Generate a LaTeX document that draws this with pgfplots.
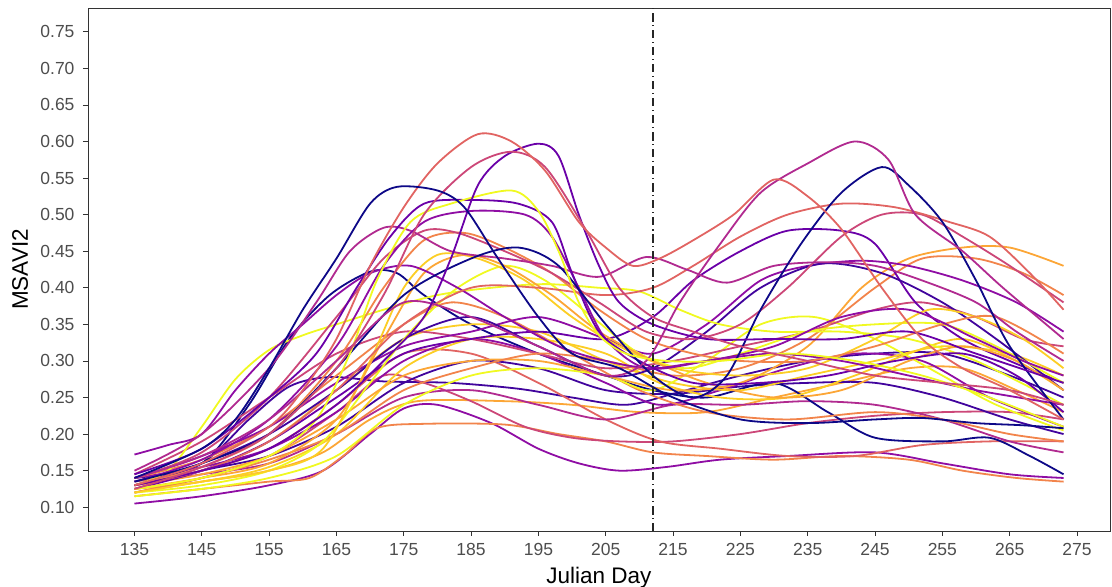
\documentclass[border=0pt]{standalone}
\usepackage{fontspec}
\setmainfont{Liberation Sans}
\usepackage{pgfplots}
\pgfplotsset{compat=1.18}
\definecolor{p0}{HTML}{0D0887}
\definecolor{p1}{HTML}{41049D}
\definecolor{p2}{HTML}{6A00A8}
\definecolor{p3}{HTML}{8F0DA4}
\definecolor{p4}{HTML}{B12A90}
\definecolor{p5}{HTML}{CC4778}
\definecolor{p6}{HTML}{E16462}
\definecolor{p7}{HTML}{F2844B}
\definecolor{p8}{HTML}{FCA636}
\definecolor{p9}{HTML}{FCCE25}
\definecolor{p10}{HTML}{F0F921}
\definecolor{tickgray}{HTML}{4D4D4D}
\definecolor{framegray}{HTML}{333333}
\begin{document}
\begin{tikzpicture}
\begin{axis}[
  width=1022pt, height=523pt, scale only axis,
  xmin=128.1, xmax=279.9, ymin=0.0675, ymax=0.7825,
  xtick={135,145,155,165,175,185,195,205,215,225,235,245,255,265,275},
  ytick={0.10,0.15,0.20,0.25,0.30,0.35,0.40,0.45,0.50,0.55,0.60,0.65,0.70,0.75},
  /pgf/number format/assume math mode=true,
  yticklabel style={/pgf/number format/.cd, fixed, fixed zerofill, precision=2, /tikz/.cd, xshift=-5pt},
  xticklabel style={/pgf/number format/.cd, set thousands separator={}, /tikz/.cd, yshift=-4pt},
  tick align=outside, xtick pos=bottom, ytick pos=left,
  major tick length=5pt,
  axis line style={framegray, line width=0.8pt},
  tick style={framegray, line width=0.8pt},
  ticklabel style={font=\fontsize{17.5}{20}\selectfont, text=tickgray},
  xlabel={Julian Day}, ylabel={MSAVI2},
  every axis x label/.style={at={(axis description cs:0.5,-0.09)}, anchor=center, font=\fontsize{22.5}{25}\selectfont},
  every axis y label/.style={at={(axis description cs:-0.0665,0.5)}, rotate=90, anchor=center, font=\fontsize{22.5}{25}\selectfont},
  every axis plot post/.append style={smooth, line width=1.8pt, mark=none},
]
% lower band
\addplot[p3] coordinates {(135,0.105)(145,0.115)(155,0.13)(163,0.15)(170,0.20)(175,0.235)(180,0.24)(188,0.215)(195,0.18)(201,0.16)(207,0.15)(214,0.155)(222,0.165)(232,0.17)(245,0.175)(255,0.16)(265,0.145)(273,0.14)};
\addplot[p7] coordinates {(135,0.115)(145,0.125)(155,0.135)(161,0.14)(166,0.17)(171,0.208)(178,0.214)(190,0.213)(198,0.20)(205,0.19)(212,0.175)(220,0.17)(230,0.165)(240,0.17)(250,0.165)(258,0.15)(266,0.14)(273,0.135)};
\addplot[p8] coordinates {(135,0.12)(145,0.135)(155,0.15)(163,0.175)(170,0.22)(177,0.245)(190,0.245)(200,0.24)(210,0.23)(220,0.23)(230,0.25)(240,0.27)(250,0.29)(258,0.29)(266,0.26)(273,0.23)};
\addplot[p1] coordinates {(135,0.13)(145,0.16)(152,0.22)(158,0.265)(164,0.278)(172,0.272)(182,0.27)(192,0.262)(200,0.25)(208,0.24)(215,0.255)(225,0.28)(235,0.30)(245,0.31)(255,0.31)(265,0.28)(273,0.25)};
\addplot[p5] coordinates {(135,0.12)(145,0.14)(155,0.17)(165,0.23)(172,0.28)(178,0.27)(185,0.245)(193,0.21)(200,0.195)(207,0.19)(215,0.19)(225,0.20)(235,0.215)(245,0.225)(255,0.23)(265,0.23)(273,0.22)};
\addplot[p6] coordinates {(135,0.135)(145,0.15)(155,0.18)(165,0.24)(175,0.31)(185,0.31)(195,0.27)(205,0.22)(213,0.19)(222,0.18)(232,0.17)(242,0.17)(252,0.185)(262,0.19)(273,0.19)};
\addplot[p4] coordinates {(135,0.13)(145,0.145)(155,0.16)(165,0.20)(175,0.25)(185,0.26)(195,0.24)(205,0.22)(215,0.24)(225,0.24)(235,0.245)(245,0.24)(255,0.22)(265,0.19)(273,0.175)};
\addplot[p1] coordinates {(135,0.125)(145,0.15)(155,0.17)(165,0.21)(175,0.27)(185,0.30)(195,0.29)(205,0.26)(215,0.255)(225,0.265)(235,0.27)(245,0.27)(255,0.25)(265,0.22)(273,0.20)};
\addplot[p0] coordinates {(135,0.14)(145,0.16)(152,0.24)(158,0.33)(164,0.39)(170,0.422)(174,0.42)(178,0.39)(185,0.35)(195,0.31)(205,0.28)(212,0.26)(220,0.25)(230,0.27)(238,0.23)(245,0.195)(255,0.19)(262,0.195)(268,0.17)(273,0.145)};
\addplot[p3] coordinates {(135,0.14)(145,0.155)(155,0.18)(165,0.23)(175,0.30)(185,0.33)(195,0.31)(205,0.27)(213,0.24)(222,0.26)(232,0.29)(242,0.31)(252,0.30)(262,0.25)(273,0.21)};
\addplot[p9] coordinates {(135,0.13)(145,0.15)(155,0.19)(165,0.26)(175,0.33)(185,0.35)(195,0.34)(205,0.30)(215,0.27)(225,0.26)(235,0.28)(245,0.30)(255,0.32)(265,0.31)(273,0.28)};
\addplot[p7] coordinates {(135,0.14)(145,0.165)(155,0.21)(165,0.28)(175,0.35)(182,0.38)(190,0.36)(200,0.31)(210,0.26)(220,0.23)(232,0.22)(245,0.23)(255,0.22)(265,0.20)(273,0.19)};
\addplot[p9] coordinates {(135,0.125)(145,0.135)(155,0.155)(165,0.20)(175,0.29)(185,0.33)(195,0.33)(205,0.31)(213,0.27)(222,0.25)(232,0.25)(242,0.28)(250,0.31)(258,0.33)(266,0.30)(273,0.26)};
\addplot[p10] coordinates {(135,0.115)(145,0.125)(155,0.14)(165,0.17)(175,0.24)(185,0.28)(195,0.29)(205,0.28)(212,0.26)(220,0.30)(228,0.35)(236,0.36)(245,0.33)(255,0.28)(263,0.24)(273,0.205)};
\addplot[p5] coordinates {(135,0.145)(145,0.19)(155,0.25)(165,0.31)(175,0.34)(185,0.33)(195,0.31)(205,0.29)(215,0.30)(225,0.32)(235,0.34)(245,0.37)(252,0.38)(260,0.36)(267,0.33)(273,0.32)};
% middle band
\addplot[p8] coordinates {(135,0.13)(145,0.145)(155,0.17)(165,0.22)(175,0.28)(185,0.30)(195,0.30)(205,0.28)(215,0.26)(225,0.27)(235,0.32)(243,0.40)(250,0.44)(258,0.455)(265,0.455)(273,0.43)};
\addplot[p7] coordinates {(135,0.12)(145,0.14)(155,0.165)(165,0.20)(175,0.26)(185,0.29)(195,0.31)(205,0.30)(215,0.28)(225,0.29)(235,0.33)(245,0.40)(252,0.44)(260,0.44)(267,0.42)(273,0.39)};
\addplot[p2] coordinates {(135,0.125)(145,0.15)(155,0.19)(165,0.25)(175,0.31)(185,0.33)(195,0.34)(205,0.33)(212,0.36)(218,0.41)(225,0.45)(232,0.478)(240,0.478)(245,0.46)(251,0.38)(258,0.33)(265,0.30)(273,0.27)};
\addplot[p3] coordinates {(135,0.14)(145,0.17)(155,0.21)(165,0.27)(175,0.32)(185,0.34)(195,0.36)(205,0.33)(212,0.31)(220,0.35)(228,0.41)(235,0.43)(243,0.437)(250,0.43)(258,0.41)(266,0.38)(273,0.34)};
\addplot[p1] coordinates {(135,0.13)(145,0.16)(155,0.20)(165,0.26)(175,0.33)(185,0.36)(195,0.32)(205,0.28)(212,0.29)(220,0.34)(228,0.40)(237,0.433)(246,0.42)(255,0.38)(263,0.33)(273,0.26)};
\addplot[p10] coordinates {(135,0.13)(140,0.15)(145,0.21)(150,0.275)(155,0.315)(160,0.335)(165,0.35)(172,0.37)(180,0.39)(188,0.40)(196,0.405)(204,0.40)(210,0.395)(216,0.37)(222,0.35)(230,0.34)(240,0.34)(250,0.33)(260,0.30)(273,0.24)};
\addplot[p10] coordinates {(135,0.12)(145,0.13)(155,0.15)(163,0.19)(170,0.27)(176,0.34)(183,0.40)(190,0.43)(196,0.41)(203,0.36)(210,0.31)(217,0.29)(225,0.31)(235,0.34)(245,0.35)(255,0.35)(263,0.32)(273,0.27)};
\addplot[p9] coordinates {(135,0.12)(145,0.135)(155,0.15)(163,0.18)(170,0.30)(175,0.40)(180,0.445)(186,0.44)(193,0.41)(200,0.36)(207,0.32)(215,0.29)(225,0.28)(235,0.29)(245,0.33)(253,0.37)(260,0.36)(267,0.33)(273,0.29)};
\addplot[p8] coordinates {(135,0.125)(145,0.14)(155,0.16)(165,0.22)(172,0.33)(178,0.42)(184,0.445)(190,0.43)(197,0.39)(204,0.34)(212,0.30)(220,0.27)(230,0.25)(240,0.26)(250,0.30)(258,0.32)(266,0.30)(273,0.26)};
\addplot[p3] coordinates {(135,0.172)(140,0.185)(145,0.20)(150,0.26)(155,0.31)(160,0.35)(165,0.39)(170,0.42)(176,0.43)(183,0.40)(190,0.36)(198,0.32)(205,0.30)(212,0.29)(220,0.30)(230,0.31)(240,0.30)(250,0.28)(260,0.26)(273,0.24)};
\addplot[p7] coordinates {(135,0.13)(145,0.155)(155,0.20)(165,0.30)(172,0.40)(178,0.465)(184,0.475)(190,0.455)(197,0.42)(204,0.37)(211,0.33)(218,0.31)(225,0.30)(235,0.30)(245,0.32)(255,0.35)(263,0.36)(273,0.31)};
\addplot[p5] coordinates {(135,0.14)(145,0.175)(155,0.25)(165,0.36)(172,0.44)(178,0.478)(183,0.475)(190,0.45)(197,0.42)(204,0.38)(211,0.34)(218,0.33)(225,0.35)(232,0.40)(240,0.47)(246,0.50)(252,0.50)(258,0.47)(265,0.43)(273,0.38)};
\addplot[p6] coordinates {(135,0.13)(145,0.15)(155,0.19)(165,0.26)(175,0.35)(185,0.40)(195,0.40)(205,0.39)(212,0.40)(218,0.43)(225,0.47)(232,0.50)(240,0.515)(248,0.51)(256,0.49)(262,0.47)(268,0.42)(273,0.37)};
\addplot[p4] coordinates {(135,0.15)(145,0.20)(155,0.29)(162,0.38)(167,0.45)(172,0.482)(176,0.478)(182,0.45)(190,0.44)(197,0.43)(204,0.415)(211,0.442)(217,0.425)(223,0.407)(230,0.43)(238,0.435)(245,0.43)(252,0.41)(260,0.38)(266,0.34)(273,0.30)};
\addplot[p3] coordinates {(135,0.135)(145,0.165)(155,0.22)(165,0.32)(172,0.43)(178,0.49)(185,0.505)(193,0.50)(197,0.47)(201,0.40)(205,0.33)(211,0.29)(220,0.30)(230,0.32)(240,0.36)(250,0.37)(260,0.33)(267,0.30)(273,0.28)};
\addplot[p2] coordinates {(135,0.145)(145,0.18)(155,0.25)(162,0.31)(168,0.40)(173,0.47)(178,0.515)(185,0.52)(192,0.515)(197,0.49)(200,0.42)(204,0.34)(210,0.30)(218,0.27)(228,0.27)(238,0.28)(248,0.30)(258,0.31)(266,0.28)(273,0.23)};
% peaks
\addplot[p0] coordinates {(135,0.135)(145,0.16)(155,0.20)(165,0.29)(175,0.39)(185,0.44)(192,0.455)(198,0.43)(205,0.35)(212,0.28)(218,0.25)(223,0.28)(228,0.37)(234,0.46)(240,0.53)(246,0.565)(250,0.54)(255,0.49)(260,0.41)(265,0.32)(273,0.22)};
\addplot[p4] coordinates {(135,0.14)(145,0.17)(155,0.22)(165,0.30)(175,0.38)(185,0.36)(195,0.32)(205,0.28)(211,0.30)(216,0.38)(222,0.46)(228,0.53)(235,0.57)(242,0.60)(247,0.575)(251,0.50)(258,0.45)(264,0.40)(273,0.33)};
\addplot[p10] coordinates {(135,0.125)(145,0.14)(155,0.17)(162,0.22)(167,0.31)(171,0.41)(176,0.49)(182,0.515)(191,0.533)(195,0.505)(198,0.45)(201,0.38)(204,0.335)(208,0.31)(214,0.30)(222,0.30)(232,0.31)(242,0.30)(252,0.28)(262,0.25)(273,0.21)};
\addplot[p2] coordinates {(135,0.13)(145,0.15)(155,0.18)(165,0.24)(172,0.30)(178,0.36)(182,0.44)(186,0.54)(190,0.58)(195,0.597)(198,0.58)(201,0.50)(204,0.43)(207,0.38)(212,0.35)(220,0.33)(230,0.33)(240,0.33)(250,0.34)(260,0.31)(273,0.27)};
\addplot[p5] coordinates {(135,0.125)(145,0.155)(155,0.20)(165,0.29)(172,0.39)(178,0.50)(185,0.565)(191,0.586)(196,0.565)(202,0.48)(207,0.40)(212,0.36)(218,0.34)(225,0.32)(235,0.30)(245,0.28)(255,0.27)(265,0.26)(273,0.24)};
\addplot[p6] coordinates {(135,0.13)(145,0.16)(155,0.21)(160,0.26)(165,0.33)(170,0.43)(175,0.51)(180,0.57)(186,0.61)(191,0.60)(196,0.56)(201,0.49)(205,0.455)(209,0.43)(213,0.44)(218,0.465)(224,0.50)(230,0.548)(235,0.525)(240,0.48)(246,0.40)(252,0.33)(258,0.29)(265,0.26)(273,0.22)};
\addplot[p0] coordinates {(135,0.14)(145,0.18)(150,0.22)(155,0.29)(160,0.37)(165,0.44)(170,0.515)(174,0.538)(180,0.533)(184,0.51)(189,0.44)(195,0.36)(200,0.31)(207,0.29)(215,0.25)(225,0.22)(235,0.215)(245,0.22)(252,0.222)(260,0.215)(267,0.212)(273,0.208)};
% vertical reference line
\addplot[black!85, line width=0.6pt, dash pattern=on 8pt off 4pt on 1pt off 4pt] coordinates {(212,0.0675)(212,0.7825)};
\coordinate (bl) at (rel axis cs:0,0);
\coordinate (tr) at (rel axis cs:1,1);
\end{axis}
\path (bl) ++(-88pt,-56pt) coordinate (q1);
\path (tr) ++(2pt,8pt) coordinate (q2);
\pgfresetboundingbox
\useasboundingbox (q1) rectangle (q2);
\end{tikzpicture}
\end{document}
